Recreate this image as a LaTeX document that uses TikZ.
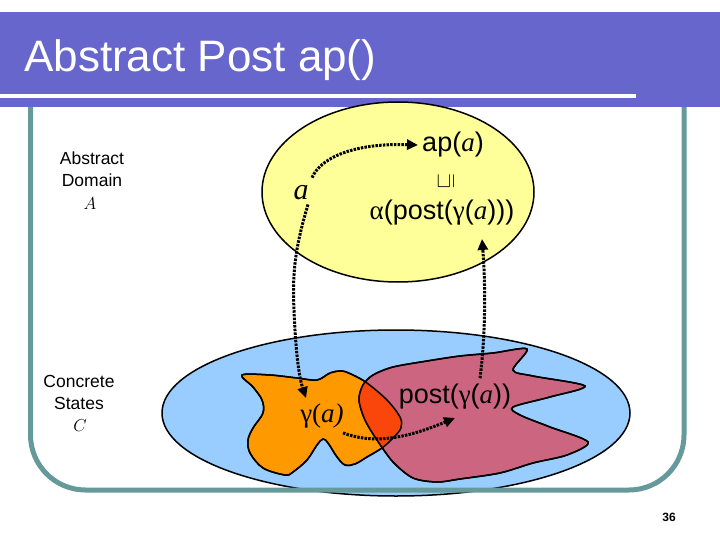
\documentclass[tikz,border=0pt]{standalone}
\usepackage{fontspec}
\setmainfont{Liberation Sans}
\newfontfamily\serif{Liberation Serif}
\usetikzlibrary{arrows.meta}
\definecolor{titlebg}{RGB}{102,102,204}
\definecolor{frameteal}{RGB}{102,153,153}
\definecolor{absyellow}{RGB}{255,255,153}
\definecolor{concblue}{RGB}{153,204,255}
\definecolor{gorange}{RGB}{255,153,0}
\definecolor{ppink}{RGB}{204,102,128}
\definecolor{overlapred}{RGB}{250,70,10}
\begin{document}
\begin{tikzpicture}[x=1pt,y=-1pt,
  dotarrow/.style={line width=3pt, dash pattern=on 2.5pt off 1.2pt, -{Triangle[length=11pt,width=10pt]}},
  blob/.style={line width=1.5pt, draw=black},
  big/.style={font=\fontsize{27}{30}\selectfont, inner sep=0pt},
  side/.style={font=\fontsize{17.5}{20}\selectfont, inner sep=0pt, anchor=base},
  sidemath/.style={font=\fontsize{18}{20}\selectfont, inner sep=0pt, anchor=base}]
\useasboundingbox[fill=white] (0,0) rectangle (720,540);

% concrete states ellipse
\draw[fill=concblue, line width=1.5pt] (396,413) ellipse [x radius=234, y radius=83];
% gamma(a) blob
\draw[blob, fill=gorange] plot[smooth cycle, tension=0.55] coordinates {
 (242,375) (270,375) (297,378) (317,380) (330,373) (342,371) (353,375) (367,383)
 (387,400) (400,417) (401,428) (393,438) (382,448) (367,457) (355,464) (345,465)
 (337,457) (328,443) (323,439) (317,445) (307,460) (293,472) (285,475) (263,468)
 (250,453) (248,440) (253,428) (263,413) (262,400) (253,387)};
% post blob
\draw[blob, fill=ppink] plot[smooth cycle, tension=0.5] coordinates {
 (373,375) (393,367) (427,361) (460,356) (493,353) (527,349) (513,370) (533,376)
 (585,386) (550,397) (513,407) (520,415) (550,427) (588,442) (567,455) (533,463)
 (500,473) (460,479) (437,482) (413,478) (393,462) (377,440) (365,420) (359,400) (363,385)};
% overlap
\begin{scope}
\clip plot[smooth cycle, tension=0.55] coordinates {
 (242,375) (270,375) (297,378) (317,380) (330,373) (342,371) (353,375) (367,383)
 (387,400) (400,417) (401,428) (393,438) (382,448) (367,457) (355,464) (345,465)
 (337,457) (328,443) (323,439) (317,445) (307,460) (293,472) (285,475) (263,468)
 (250,453) (248,440) (253,428) (263,413) (262,400) (253,387)};
\fill[overlapred] plot[smooth cycle, tension=0.5] coordinates {
 (373,375) (393,367) (427,361) (460,356) (493,353) (527,349) (513,370) (533,376)
 (585,386) (550,397) (513,407) (520,415) (550,427) (588,442) (567,455) (533,463)
 (500,473) (460,479) (437,482) (413,478) (393,462) (377,440) (365,420) (359,400) (363,385)};
\end{scope}
\draw[blob] plot[smooth cycle, tension=0.55] coordinates {
 (242,375) (270,375) (297,378) (317,380) (330,373) (342,371) (353,375) (367,383)
 (387,400) (400,417) (401,428) (393,438) (382,448) (367,457) (355,464) (345,465)
 (337,457) (328,443) (323,439) (317,445) (307,460) (293,472) (285,475) (263,468)
 (250,453) (248,440) (253,428) (263,413) (262,400) (253,387)};
\draw[blob] plot[smooth cycle, tension=0.5] coordinates {
 (373,375) (393,367) (427,361) (460,356) (493,353) (527,349) (513,370) (533,376)
 (585,386) (550,397) (513,407) (520,415) (550,427) (588,442) (567,455) (533,463)
 (500,473) (460,479) (437,482) (413,478) (393,462) (377,440) (365,420) (359,400) (363,385)};

% frame
\draw[frameteal, line width=5pt, rounded corners=55pt] (30.5,100) -- (30.5,490) -- (684,490) -- (684,100);

% title bar
\fill[titlebg] (0,12) rectangle (720,107);
\draw[white, line width=3.5pt] (0,96) -- (636,96);
\node[anchor=base west, inner sep=0pt, text=white, font=\fontsize{44}{48}\selectfont] (title) at (24,72) {Abstract Post ap()};

% abstract domain ellipse
\draw[fill=absyellow, line width=1.5pt] (398,192) ellipse [x radius=136, y radius=90];

% side labels
\node[side] (ad1) at (92,165) {Abstract};
\node[side] (ad2) at (92,187) {Domain};
\node[sidemath] (ad3) at (90,210) {$A$};
\node[side] (cs1) at (79,387) {Concrete};
\node[side] (cs2) at (79,409) {States};
\node[sidemath] (cs3) at (80,431) {$C$};

% texts
\node[big, anchor=base] (a) at (301,200) {\serif\itshape\fontsize{30}{30}\selectfont a};
\node[big, anchor=base] (ap) at (453,152) {ap({\serif\itshape a})};
\node[inner sep=0pt, font=\fontsize{20}{20}\selectfont] (sq) at (446,181) {\rotatebox{90}{$\sqsubseteq$}};
\node[big, anchor=base] (al) at (442,219) {{\serif α}(post({\serif γ}({\serif\itshape a})))};
\node[big, anchor=base] (g) at (322,422) {{\serif γ(\itshape a)}};
\node[big, anchor=base] (p) at (455,403) {post({\serif γ}({\serif\itshape a}))};

% arrows
\draw[dotarrow] ([shift={(11,-8)}]a.north) .. controls (322,155) and (360,143) .. ([shift={(-4,0)}]ap.west);
\draw[dotarrow] ([shift={(7,4)}]a.south) .. controls (296,245) and (292,270) .. (294,310) .. controls (296,360) and (300,380) .. ([shift={(-16,-5)}]g.north);
\draw[dotarrow] ([shift={(25,-5)}]p.north) .. controls (485,340) and (486,290) .. ([shift={(40,14)}]al.south);
\draw[dotarrow] ([shift={(21,5)}]g.south) .. controls (370,443) and (400,441) .. ([shift={(0,9)}]p.south);

% page number
\node[inner sep=0pt, font=\bfseries\fontsize{12}{12}\selectfont] (pg) at (669,517) {36};
\end{tikzpicture}
\end{document}
